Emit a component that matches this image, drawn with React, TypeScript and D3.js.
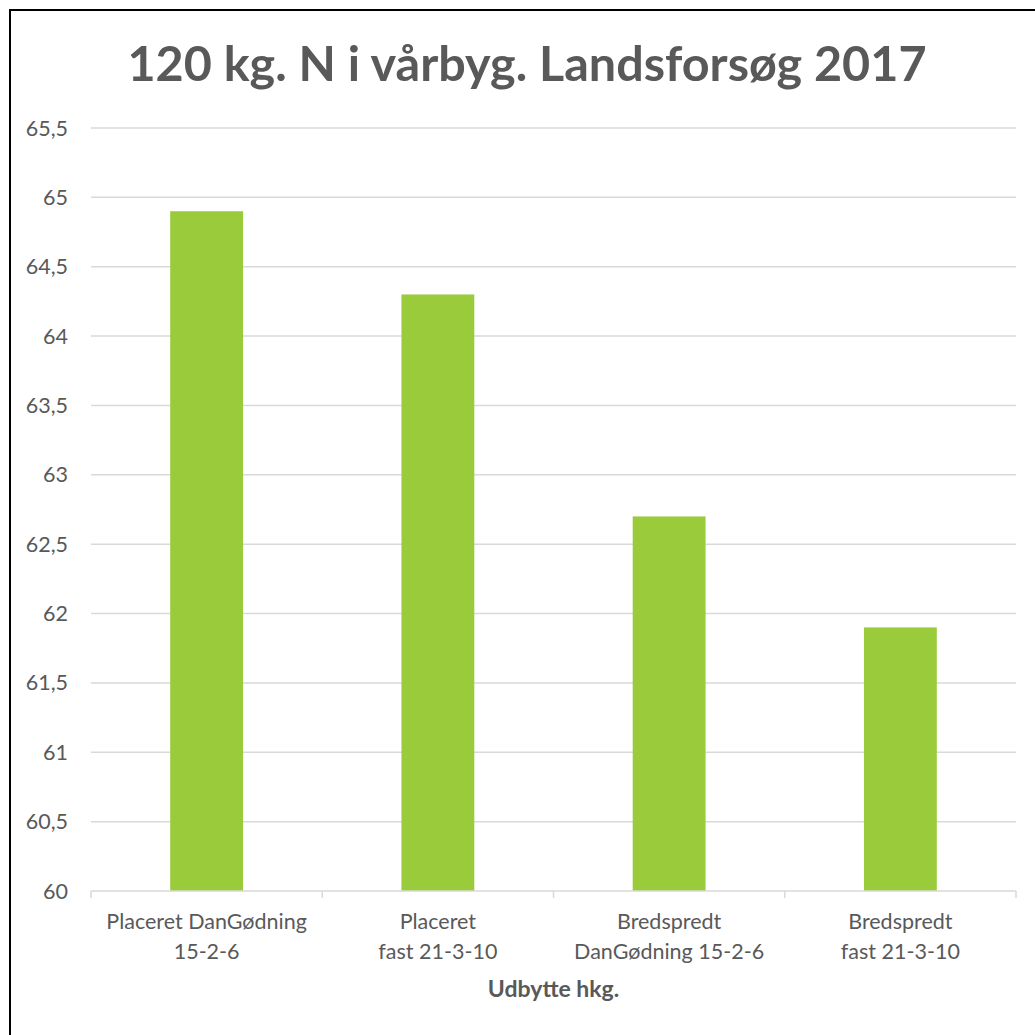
import React, { useRef, useEffect } from "react";
import * as d3 from "d3";

// Data
const categories = [
  "Placeret DanGødning 15-2-6",
  "Placeret fast 21-3-10",
  "Bredspredt DanGødning 15-2-6",
  "Bredspredt fast 21-3-10",
];
const labelLines = [
  ["Placeret DanGødning", "15-2-6"],
  ["Placeret", "fast 21-3-10"],
  ["Bredspredt", "DanGødning 15-2-6"],
  ["Bredspredt", "fast 21-3-10"],
];
const values = [64.9, 64.3, 62.7, 61.9];
const yTicks = [60, 60.5, 61, 61.5, 62, 62.5, 63, 63.5, 64, 64.5, 65, 65.5];

const title = "120 kg. N i vårbyg. Landsforsøg 2017";
const xTitle = "Udbytte hkg.";

const App: React.FC = () => {
  const svgRef = useRef<SVGSVGElement | null>(null);

  useEffect(() => {
    if (!svgRef.current) return;
    const width = 1035;
    const height = 1035;
    const font = "Lato, 'Open Sans', sans-serif";
    const textColor = "#595959";
    const gridColor = "#d9d9d9";

    const svg = d3.select(svgRef.current).attr("width", width).attr("height", height);
    svg.selectAll("*").remove();

    // Chart frame (only top and left edges show in the picture)
    svg
      .append("rect")
      .attr("x", 10)
      .attr("y", 10)
      .attr("width", 1040)
      .attr("height", 1040)
      .attr("fill", "#fff")
      .attr("stroke", "#000")
      .attr("stroke-width", 2);

    const plot = { left: 91, right: 1016, top: 128, bottom: 891 };

    // Scales
    const x = d3
      .scaleBand()
      .domain(categories)
      .range([plot.left, plot.right])
      .paddingInner(0.685)
      .paddingOuter(0.3425);
    const band = d3.scaleBand().domain(categories).range([plot.left, plot.right]);
    const y = d3.scaleLinear().domain([60, 65.5]).range([plot.bottom, plot.top]);

    // Title
    svg
      .append("text")
      .attr("x", 527)
      .attr("y", 81)
      .attr("text-anchor", "middle")
      .attr("font-family", font)
      .attr("font-weight", "bold")
      .attr("font-size", 48.5)
      .attr("fill", textColor)
      .text(title);

    // Gridlines
    svg
      .append("g")
      .selectAll("line")
      .data(yTicks.slice(1))
      .enter()
      .append("line")
      .attr("x1", plot.left)
      .attr("x2", plot.right)
      .attr("y1", (d) => y(d))
      .attr("y2", (d) => y(d))
      .attr("stroke", gridColor)
      .attr("stroke-width", 1.5);

    // Y tick labels
    svg
      .append("g")
      .selectAll("text")
      .data(yTicks)
      .enter()
      .append("text")
      .attr("x", 68)
      .attr("y", (d) => y(d) + 7.5)
      .attr("text-anchor", "end")
      .attr("font-family", font)
      .attr("font-size", 21.5)
      .attr("fill", textColor)
      .text((d) => d3.format("")(d).replace(".", ","));

    // Bars
    svg
      .append("g")
      .selectAll("rect")
      .data(values)
      .enter()
      .append("rect")
      .attr("x", (_d, i) => x(categories[i])!)
      .attr("y", (d) => y(d))
      .attr("width", x.bandwidth())
      .attr("height", (d) => y(60) - y(d))
      .attr("fill", "#9acb3a");

    // X axis line and ticks
    const axis = svg.append("g");
    axis
      .append("line")
      .attr("x1", plot.left)
      .attr("x2", plot.right)
      .attr("y1", plot.bottom)
      .attr("y2", plot.bottom)
      .attr("stroke", gridColor)
      .attr("stroke-width", 1.5);
    const boundaries = categories.map((c) => band(c)!).concat([plot.right]);
    axis
      .selectAll(".tick")
      .data(boundaries)
      .enter()
      .append("line")
      .attr("x1", (d) => d)
      .attr("x2", (d) => d)
      .attr("y1", plot.bottom)
      .attr("y2", plot.bottom + 7)
      .attr("stroke", gridColor)
      .attr("stroke-width", 1.5);

    // X labels
    const labels = svg
      .append("g")
      .selectAll("text")
      .data(labelLines)
      .enter()
      .append("text")
      .attr("text-anchor", "middle")
      .attr("font-family", font)
      .attr("font-size", 21.5)
      .attr("fill", textColor);
    labels
      .selectAll("tspan")
      .data((d, i) => d.map((line) => ({ line, i })))
      .enter()
      .append("tspan")
      .attr("x", (d) => band(categories[d.i])! + band.bandwidth() / 2)
      .attr("y", (_d, j) => 929 + j * 30)
      .text((d) => d.line);

    // X axis title
    svg
      .append("text")
      .attr("x", (plot.left + plot.right) / 2)
      .attr("y", 997)
      .attr("text-anchor", "middle")
      .attr("font-family", font)
      .attr("font-weight", "bold")
      .attr("font-size", 23)
      .attr("fill", textColor)
      .text(xTitle);

    return () => {
      svg.selectAll("*").remove();
    };
  }, []);

  return (
    <svg
      ref={svgRef}
      style={{ position: "absolute", left: 0, top: 0, display: "block" }}
    />
  );
};

export default App;
